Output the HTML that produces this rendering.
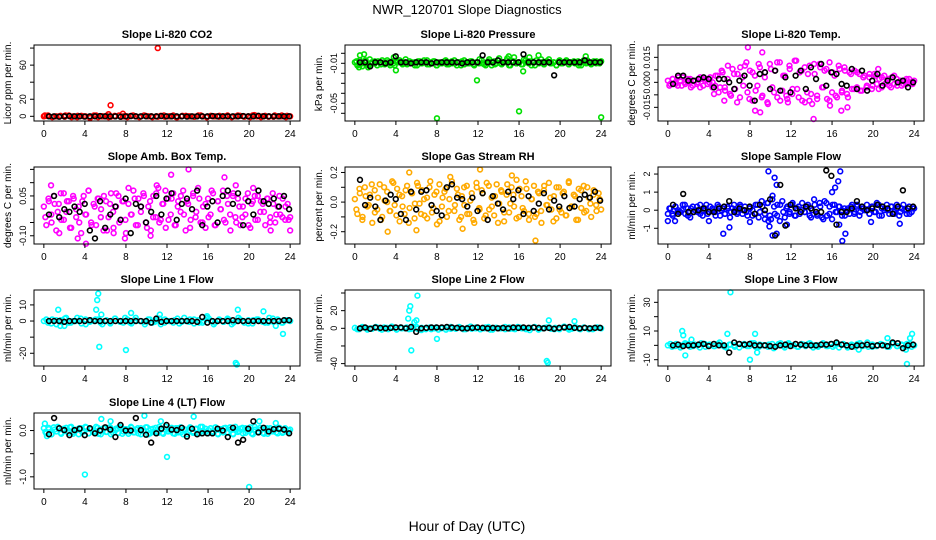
<!DOCTYPE html>
<html><head><meta charset="utf-8"><style>
html,body{margin:0;padding:0;background:#fff}
svg{display:block;font-family:"Liberation Sans",Arial,sans-serif}
</style></head><body>
<svg id="chart" width="936" height="540" viewBox="0 0 936 540" xmlns="http://www.w3.org/2000/svg">
<rect width="936" height="540" fill="#fff"/>
<text x="467" y="14" text-anchor="middle" font-size="13">NWR_120701  Slope Diagnostics</text>
<text x="467" y="531" text-anchor="middle" font-size="14">Hour of Day (UTC)</text>
</svg>
<script>
const xTicks=[0,4,8,12,16,20,24];
// CO2
const co2Band=[0,1,-1,0,0.5,-0.5,1,0,-1,0.5,0,-0.5,1,-1,0,0.5,-0.5,0,1,0,-1,0.5,0,-0.5,1,0,-1,0,0.5,-0.5,0,1,-1,0,0.5,0,-0.5,1,0,-1,0.5,0,-0.5,0,1,-1,0,0.5,-0.5,0,1,0,-1,0.5,0,-0.5,0,1,-1,0];
const co2Band2=[0.5,-0.5,0,1,-1,0.5,0,-0.5,1,0,-1,0.5,-0.5,0,1,-1,0.5,0,-0.5,1,0,-1,0.5,0,-0.5,1,-1,0,0.5,0,-0.5,1,0,-1,0.5,0,-0.5,1,0,0.5];
const co2Out=[[11.1,80],[6.5,13],[7.7,3],[6.3,2.5],[4.5,-2],[20.5,1.5],[0.1,1]];
const co2Black=[0,0,-0.5,0,0.3,0,0,-0.3,0,0,0.3,0,0,0,-0.5,0,0.3,0,0,0,0,0,0.3,0,0,0,0,-0.3,0,0,0,0,0.3,0,0,0,0,0,0.3,0,0,0.5,0,0,0,0,0,0];
// Pressure
const presBand=[-0.009,-0.012,-0.007,-0.013,-0.008,-0.011,-0.006,-0.01,-0.008,-0.012,-0.009,-0.007,-0.011,-0.009,-0.01,-0.008,-0.012,-0.009,-0.007,-0.01,-0.009,-0.011,-0.008,-0.01,-0.009,-0.012,-0.008,-0.01,-0.009,-0.007,-0.011,-0.01,-0.008,-0.012,-0.009,-0.01,-0.008,-0.011,-0.009,-0.01,-0.007,-0.012,-0.009,-0.008,-0.011,-0.009,-0.01,-0.008,-0.012,-0.009,-0.01,-0.007,-0.011,-0.009,-0.006,-0.012,-0.008,-0.01,-0.005,-0.011,-0.009,-0.007,-0.012,-0.008,-0.004,-0.01,-0.009,-0.011,-0.006,-0.009,-0.008,-0.012,-0.009,-0.007,-0.01,-0.009,-0.011,-0.008,-0.006,-0.01,-0.009,-0.012,-0.008,-0.01,-0.009,-0.007,-0.011,-0.009,-0.008,-0.01,-0.012,-0.009,-0.007,-0.01,-0.009,-0.011,-0.008,-0.01,-0.009,-0.008];
const presBand2=[-0.008,-0.011,-0.01,-0.007,-0.012,-0.009,-0.01,-0.008,-0.011,-0.009,-0.007,-0.012,-0.01,-0.008,-0.009,-0.011,-0.006,-0.01,-0.009,-0.012,-0.008,-0.01,-0.007,-0.011,-0.009,-0.008,-0.012,-0.01,-0.009,-0.007,-0.011,-0.008,-0.01,-0.009,-0.012,-0.007,-0.01,-0.008,-0.011,-0.009,-0.006,-0.01,-0.012,-0.008,-0.009,-0.011,-0.007,-0.01,-0.009,-0.005,-0.012,-0.008,-0.01,-0.009,-0.011,-0.007,-0.01,-0.008,-0.012,-0.009,-0.006,-0.011,-0.008,-0.01,-0.009,-0.012,-0.007,-0.01,-0.008,-0.011,-0.009,-0.01,-0.008,-0.012,-0.009,-0.007,-0.01,-0.009,-0.008,-0.01];
const presOut=[[0.9,-0.001],[0.5,-0.002],[0.4,-0.014],[1.3,-0.014],[4,-0.017],[3.8,-0.004],[8,-0.065],[11.9,-0.027],[16,-0.058],[16.4,-0.018],[17,-0.004],[17.9,-0.002],[22.5,-0.003],[24,-0.064],[15,-0.003]];
const presBlack=[-0.009,-0.009,-0.013,-0.009,-0.009,-0.01,-0.009,-0.003,-0.009,-0.009,-0.01,-0.009,-0.009,-0.009,-0.01,-0.009,-0.009,-0.009,-0.009,-0.009,-0.01,-0.009,-0.009,-0.009,-0.002,-0.009,-0.009,-0.007,-0.009,-0.009,-0.009,-0.009,-0.001,-0.009,-0.009,-0.009,-0.009,-0.009,-0.022,-0.009,-0.009,-0.009,-0.009,-0.009,-0.007,-0.009,-0.009,-0.009];
// Li-820 temp
const ltBand=[0.001,-0.001,0.002,0,-0.002,0.001,0.003,-0.001,0,0.002,-0.002,0.001,0,-0.003,0.002,0.001,-0.001,0.003,0,-0.002,0.004,-0.003,0.006,-0.005,0.002,-0.007,0.008,-0.004,0.005,-0.009,0.003,0.01,-0.006,0.007,-0.011,0.004,-0.002,0.009,-0.008,0.006,-0.012,0.011,-0.003,0.007,-0.009,0.012,-0.005,0.004,-0.01,0.008,-0.007,0.013,-0.004,0.006,-0.011,0.009,-0.006,0.01,-0.013,0.005,-0.008,0.011,-0.003,0.007,-0.01,0.012,-0.006,0.004,-0.009,0.008,-0.005,0.009,-0.007,0.006,-0.004,0.007,-0.003,0.005,-0.005,0.004,-0.002,0.003,-0.004,0.005,-0.001,0.002,-0.003,0.004,0,-0.002,0.003,-0.001,0.002,0,-0.002,0.001,-0.001,0.002,0,0.001];
const ltBand2=[-0.002,0.002,-0.001,0.003,-0.002,0,0.002,-0.003,0.001,-0.001,0.003,-0.002,0.002,0,-0.003,0.004,-0.006,0.007,-0.003,0.01,-0.008,0.005,-0.012,0.009,-0.002,0.012,-0.01,0.006,-0.005,0.011,-0.009,0.003,-0.013,0.008,-0.006,0.012,-0.011,0.004,-0.008,0.01,-0.004,0.013,-0.009,0.007,-0.012,0.005,-0.007,0.011,-0.01,0.009,-0.003,0.008,-0.011,0.006,-0.008,0.01,-0.006,0.007,-0.009,0.005,-0.004,0.006,-0.005,0.003,-0.003,0.005,-0.002,0.004,-0.004,0.003,-0.001,0.002,-0.003,0.004,-0.002,0.001,-0.001,0.002,0,-0.001];
const ltOut=[[7.8,0.021],[9.2,0.018],[8.5,-0.017],[9,-0.018],[14.2,-0.022],[16.9,-0.017],[12.5,0.013],[5.5,-0.011],[11.7,-0.012],[15.8,-0.014],[17.5,-0.015],[4.5,-0.007],[20.5,0.008],[13.8,-0.011]];
const ltBlack=[-0.001,0.004,0.004,0.001,0.001,0.002,0.003,0.002,-0.003,0.002,0.002,0,-0.004,0.001,0.004,-0.002,-0.011,0.005,0.006,-0.004,0.007,-0.005,0.003,-0.006,0.004,0.007,-0.004,0.009,0.002,0.011,-0.002,0.006,0.005,-0.001,-0.002,0.008,-0.004,0.007,-0.005,0.001,0.005,-0.002,0.001,0.003,0,0.001,-0.003,0];
// Amb box temp
const abBand=[0.01,-0.06,0.03,-0.02,0.05,-0.08,0.02,-0.04,0.06,-0.01,0.03,-0.07,0.04,-0.03,0.01,-0.09,0.05,-0.02,0.07,-0.05,0.02,-0.06,0.04,0,-0.08,0.03,-0.03,0.06,-0.07,0.01,0.05,-0.04,0.03,-0.09,0.02,-0.02,0.07,-0.06,0.04,-0.01,0.06,-0.05,0.01,-0.08,0.05,-0.03,0.08,-0.04,0.02,-0.07,0.04,-0.02,0.06,-0.06,0.03,-0.01,0.07,-0.08,0.02,-0.04,0.05,-0.03,0.08,-0.05,0.01,-0.07,0.04,-0.02,0.06,-0.06,0.03,0,0.07,-0.05,0.02,-0.08,0.05,-0.03,0.04,-0.06,0.01,-0.02,0.06,-0.07,0.03,-0.04,0.05,-0.01,0.02,-0.06,0.04,-0.03,0.06,-0.05,0.01,-0.02,0.04,-0.04,0.02,-0.03];
const abBand2=[-0.03,0.04,-0.05,0.02,-0.01,0.06,-0.04,0.03,-0.07,0.05,0,-0.05,0.03,-0.02,0.07,-0.06,0.01,0.04,-0.03,0.05,-0.08,0.02,-0.01,0.06,-0.05,0.03,-0.04,0.08,-0.02,0.04,-0.06,0.01,0.05,-0.07,0.03,-0.03,0.06,-0.05,0.02,0.07,-0.04,0.04,-0.06,0.01,0.05,-0.02,0.03,-0.07,0.06,-0.01,0.04,-0.05,0.02,-0.03,0.07,-0.06,0.03,0,-0.04,0.05,-0.02,0.06,-0.05,0.01,-0.03,0.04,-0.06,0.02,0.05,-0.04,0.03,-0.01,0.04,-0.05,0.02,-0.02,0.05,-0.03,0.01,-0.04];
const abOut=[[0.7,0.09],[3.3,-0.11],[4.1,-0.13],[7.9,-0.11],[10.4,-0.1],[11,0.09],[12.4,0.13],[14.1,0.15],[17.6,0.12],[22.1,-0.08],[24,-0.08],[1.5,-0.09],[6.8,-0.09],[18.7,0.09],[20.4,0.08]];
const abBlack=[-0.02,0.05,-0.03,0,-0.01,0.01,-0.01,0.02,-0.08,-0.11,0.03,-0.07,-0.02,0.01,-0.04,0.04,-0.09,0.02,0.01,-0.05,-0.01,0.05,-0.02,0.04,0.06,-0.04,0.02,0.04,0,0.07,-0.06,0.01,0.03,-0.05,0.05,0.07,0.02,0.06,-0.06,0.03,-0.02,0.07,0.03,0.02,0.04,0.01,0.05,0];
// Gas stream RH
const rhBand=[0.02,-0.08,0.06,-0.12,0.1,-0.03,0.05,-0.14,0.08,-0.05,0.12,-0.1,0.01,0.07,-0.06,0.14,-0.02,0.09,-0.13,0.04,-0.08,0.11,-0.04,0.06,-0.11,0.13,-0.01,0.08,-0.09,0.03,0.1,-0.07,0.05,-0.15,0.12,-0.03,0.07,-0.1,0.02,0.14,-0.06,0.09,-0.12,0.04,-0.02,0.11,-0.08,0.06,-0.14,0.1,-0.04,0.08,-0.11,0.13,-0.05,0.03,-0.09,0.12,-0.01,0.07,-0.13,0.05,-0.07,0.1,-0.03,0.15,-0.1,0.04,-0.06,0.09,-0.12,0.02,0.11,-0.08,0.06,-0.14,0.08,-0.02,0.13,-0.05,0.04,-0.11,0.1,-0.07,0.07,-0.09,0.14,-0.03,0.05,-0.12,0.09,-0.04,0.11,-0.06,0.03,-0.1,0.08,-0.02,0.06,-0.05];
const rhBand2=[-0.05,0.09,-0.1,0.04,-0.02,0.12,-0.07,0.03,-0.12,0.1,0,-0.06,0.13,-0.09,0.05,-0.03,0.08,-0.14,0.06,-0.01,0.11,-0.08,0.02,-0.11,0.14,-0.04,0.07,-0.13,0.03,0.09,-0.06,0.12,-0.02,0.05,-0.1,0.1,-0.08,0.01,-0.12,0.13,-0.05,0.06,-0.09,0.11,-0.03,0.04,-0.14,0.08,-0.07,0.12,-0.01,0.05,-0.11,0.09,-0.04,0.14,-0.08,0.02,-0.1,0.07,-0.06,0.11,-0.02,0.03,-0.13,0.1,-0.05,0.06,-0.09,0.13,-0.03,0.04,-0.12,0.08,-0.07,0.1,-0.01,0.05,-0.06,0.02];
const rhOut=[[5.3,0.2],[12.2,0.22],[17.6,-0.26],[3.2,-0.2],[9.3,0.17],[15.3,0.18],[10.5,-0.18],[6,-0.19]];
const rhBlack=[0.15,-0.02,0.03,-0.03,-0.12,0.01,0.05,0.02,-0.08,-0.12,0.07,-0.05,0.07,0.08,-0.02,-0.06,-0.09,0.1,0.12,0.03,0.02,-0.03,0.03,-0.06,0.06,-0.12,0.04,-0.01,-0.05,0.07,0.02,0.08,-0.08,0.04,-0.06,-0.01,0.06,-0.05,0.01,-0.03,0.04,-0.04,-0.03,0.02,0.05,0.03,0.07,0.01];
// Sample flow
const sfBand=[-0.2,0.1,-0.3,0.2,0,-0.1,0.3,-0.2,0.1,-0.4,0.2,0,-0.1,0.3,-0.3,0.1,-0.2,0.2,0,-0.1,0.3,-0.3,0.1,-0.2,0.2,-0.4,0.1,0,-0.1,0.3,-0.2,0.2,-0.3,0.1,0,-0.2,0.3,-0.1,0.2,-0.5,0.4,-0.3,0.6,-0.2,0.3,-0.6,0.5,-0.4,0.2,-0.1,0.3,-0.3,0.1,-0.2,0.4,-0.1,0.2,-0.3,0,0.3,-0.2,0.4,-0.4,0.5,-0.3,0.2,-0.5,0.3,-0.1,0.2,-0.3,0.1,0,-0.2,0.3,-0.1,0.2,-0.3,0.1,0,0.3,-0.2,0.2,-0.1,0.4,-0.3,0.1,0,0.3,-0.2,0.2,-0.1,0.3,-0.3,0.1,0,-0.2,0.2,-0.1,0.1];
const sfBand2=[0.1,-0.2,0.2,-0.1,0,0.3,-0.3,0.1,-0.1,0.2,-0.2,0,0.3,-0.1,0.1,-0.3,0.2,0,-0.2,0.1,-0.1,0.3,-0.2,0.2,0,-0.1,0.1,-0.3,0.3,-0.4,0.5,-0.2,0.4,-0.5,0.2,-0.3,0.3,-0.1,0.1,-0.2,0.4,-0.3,0.2,0,-0.1,0.3,-0.4,0.6,-0.3,0.2,-0.5,0.4,-0.2,0.3,-0.1,0.2,0,-0.3,0.1,0.2,-0.2,0.3,-0.1,0.1,0,-0.2,0.2,-0.1,0.3,-0.3,0.1,0,0.2,-0.2,0.1,-0.1,0.3,0,-0.2,0.1];
const sfOut=[[9.8,2.15],[10.4,1.8],[10.6,1.4],[10.2,0.8],[9.9,-0.9],[10.2,-1.4],[10.6,-1.3],[9.8,-0.6],[11.6,-0.8],[16,1],[16.3,1.25],[16.6,1.6],[16.8,2.15],[16.7,-0.8],[17,-1.7],[17.3,-1.3],[5.4,-1.3],[6,-0.95],[0,-0.6],[0.7,-0.6],[22.6,-0.75],[19.8,-0.65],[8,-0.65],[4,-0.6]];
const sfBlack=[0.3,-0.2,0.9,-0.1,-0.1,0,0.1,-0.1,-0.1,0.1,0.2,0.5,-0.1,0.1,0,0.2,-0.2,0.3,0,0.6,-1.4,1.4,-0.85,0.3,0.1,-0.1,0.2,0.1,-0.1,-0.1,2.2,1.9,-0.8,-0.1,-0.1,0.1,0.5,0.2,0,0.1,0.3,0.2,0.1,-0.2,0.2,1.1,0.1,0.2];
// Line 1
const l1Band=[0,-1,1,-2,0.5,1.5,-1,0,2,-1.5,1,-0.5,0,1,-2,0.5,-1,1.5,0,-1,1,-1.5,2,0,-0.5,1,-1,0.5,-2,1,0,-1,1.5,-0.5,0,1,-1.5,0.5,-1,2,0,-1,1,-0.5,1.5,-2,0,1,-1,0.5,-1.5,1,0,-1,2,-0.5,1,-1,0.5,0];
const l1Band2=[1,-1.5,0.5,-0.5,2,-1,0,1.5,-2,0.5,1,-1,0,-1.5,1.5,-0.5,2,-1,0.5,0,-2,1,-0.5,1.5,-1,0,0.5,-1.5,2,-0.5,1,-1,0,1.5,-2,0.5,-0.5,1,-1,2,0,-1.5,0.5,1,-0.5,-1,1.5,0,-1,0.5];
const l1Out=[[1.4,7],[1.6,-3],[2,-3],[5.1,7],[5.2,13],[5.3,17],[5.4,-16],[5.6,4],[8,-18],[8.5,5],[11.3,4],[18.7,-26],[18.8,-27],[18.9,7],[21.4,6],[22.6,-3],[23.3,-8],[15.9,3]];
const l1Black=[0,0,0,-0.5,0,0,0,0,0.5,0,0,0,0,0,0,0,0,0,0,0,-1,1.5,-0.5,0,0,0,0,0,0,-0.5,2.5,-1,0,0,0,0,0.5,0,0,0,0,0,0,0,0,0,0.5,0.5];
// Line 2
const l2Band=[0.5,-1,1,-1.5,0,1.5,-0.5,1,-1,0.5,-1.5,1,0,-1,1.5,-0.5,0.5,-1,1,0,-1.5,0.5,1,-0.5,0,1.5,-1,0.5,-0.5,1,-1,0,1.5,-1.5,0.5,0,-1,1,-0.5,1.5,0,-1,0.5,1,-1.5,0,1,-0.5,0.5,-1,1.5,0,-0.5,1,-1,0.5,0,-1,1,0];
const l2Band2=[-1,1.5,0,-0.5,1,-1.5,0.5,2,-1,0,1,-0.5,1.5,-2,0.5,-1,1,0,-1.5,1.5,-0.5,0.5,-1,2,0,-1,1,-1.5,0.5,0,1.5,-0.5,-1,1,0,-2,1.5,-0.5,0.5,1,-1,0,2,-1.5,0.5,-0.5,1,-1,0,0.5];
const l2Out=[[5.2,11],[5.3,20],[5.4,25],[5.8,7],[6,9],[6.1,37],[5.5,-25],[8,-12],[18.7,-37],[18.8,-39],[18.9,9],[21.4,8]];
const l2Black=[0,1,-0.5,1,0.5,0,0.5,1,1,0,1.5,-4,0,0.5,1,1,1,1.5,1,0.5,0,0,0.5,1,0.5,0,0.5,0,0.5,0,1,0.5,1,0.5,1,0.5,0,0.5,-0.5,0.5,1,1.5,0.5,0,0.5,0,0.5,0.5];
// Line 3
const l3Band=[0,-1,1,-1.5,0.5,1,-0.5,0,1.5,-1,0.5,-0.5,1,0,-1.5,0.5,-1,1,0,-0.5,1.5,-1,0.5,0,-1,1,-0.5,1.5,-1.5,0.5,0,-1,1,-0.5,1.5,0,-1,0.5,-0.5,1,0,-1.5,1,-0.5,0.5,-1,1.5,0,-1,0.5,-0.5,1,0,-1,1.5,-0.5,0.5,-1,1,0];
const l3Band2=[1,-0.5,0,1.5,-1,0.5,-1.5,1,0,-0.5,2,-1,0.5,0,-1.5,1,-0.5,1.5,-1,0,0.5,-2,1,-0.5,1.5,0,-1,0.5,1,-1.5,0,1.5,-0.5,-1,1,0.5,-1.5,0,1,-0.5,2,-1,0,0.5,-1,1.5,-0.5,0,1,-1];
const l3Out=[[1.4,10],[1.5,7],[1.7,-7],[2.3,4],[5.8,8],[6.1,37],[8,-10],[8.5,8],[8.7,-5],[18.6,-3],[23.3,-13],[23.6,5],[23.8,8],[23.2,-3],[21.4,5]];
const l3Black=[0,0.5,-0.5,0,0,0.5,1,-0.5,1,0,0,-5,2,1,0.5,1,0,0,0,-0.5,-1,0,0.5,-0.5,1,0.5,0,0,0,0.5,0.5,1,2,0.5,0,-1,0,0,0.5,-0.5,0,0,-0.5,2,1.5,-2,0,0.5];
// Line 4
const l4Band=[0.05,-0.06,0.03,-0.08,0.07,-0.02,0.04,-0.07,0.01,0.06,-0.05,0.08,-0.03,0.02,-0.08,0.05,-0.01,0.07,-0.06,0.03,-0.04,0.08,-0.07,0.02,0.05,-0.03,0.06,-0.08,0.01,0.04,-0.05,0.07,-0.02,0.03,-0.07,0.08,-0.04,0.02,-0.06,0.05,-0.01,0.07,-0.08,0.03,-0.03,0.06,-0.05,0.04,-0.07,0.08,-0.02,0.01,-0.06,0.05,-0.04,0.07,-0.08,0.02,-0.03,0.06,-0.05,0.03,-0.07,0.08,-0.01,0.04,-0.06,0.05,-0.02,0.07,-0.08,0.03,-0.04,0.06,-0.05,0.02,-0.07,0.08,-0.03,0.04,-0.06,0.05,-0.01,0.07,-0.08,0.02,-0.04,0.06,-0.05,0.03,-0.07,0.05,-0.02,0.04,-0.06,0.03,-0.03,0.05,-0.04,0.02];
const l4Band2=[-0.03,0.06,-0.08,0.02,0.08,-0.05,0.04,-0.02,0.07,-0.07,0.01,0.05,-0.04,0.08,-0.06,0.03,-0.01,0.06,-0.08,0.04,-0.03,0.07,-0.05,0.02,0.08,-0.07,0.03,-0.02,0.06,-0.04,0.05,-0.08,0.01,0.07,-0.06,0.04,-0.03,0.08,-0.05,0.02,-0.01,0.06,-0.07,0.05,-0.04,0.03,-0.08,0.07,-0.02,0.04,-0.06,0.08,-0.03,0.01,-0.05,0.06,-0.07,0.03,0.05,-0.04,0.07,-0.08,0.02,-0.01,0.06,-0.05,0.04,-0.06,0.08,-0.03,0.02,-0.07,0.05,-0.02,0.03,-0.04,0.06,-0.05,0.01,0];
const l4Out=[[0.1,0.15],[5.6,0.25],[6.5,0.2],[9.8,0.32],[14.6,0.3],[21,0.2],[11.4,0.2],[4,-0.95],[12,-0.57],[20,-1.22],[0.3,-0.12],[22.6,0.16]];
const l4Black=[-0.08,0.27,0.05,0.01,-0.1,0.01,0.04,-0.1,0.05,-0.06,0,0.07,0.02,-0.14,0.12,0,0,0.27,0.01,-0.09,-0.26,-0.06,0.04,0.12,0.02,0.01,0.06,-0.13,0.04,-0.08,-0.06,-0.06,-0.06,0.04,0,-0.14,0.06,-0.26,-0.2,0.04,0.2,-0.04,0.06,-0.02,0.03,0.04,0.02,-0.06];

const panels=[
 {name:'co2',title:'Slope Li-820 CO2',ylab:'Licor ppm per min.',box:[34,45,300,121],ylim:[-5.5,83.6],ticks:[0,20,40,60,80],labels:['0','20','','60',''],color:'#ff0000',bands:[co2Band,co2Band2],out:co2Out,black:co2Black},
 {name:'pressure',title:'Slope Li-820 Pressure',ylab:'kPa per min.',box:[345,45,611,121],ylim:[-0.0677,0.0083],ticks:[0,-0.01,-0.02,-0.03,-0.04,-0.05,-0.06],labels:['','-0.01','','','','-0.05',''],color:'#00e000',bands:[presBand,presBand2],out:presOut,black:presBlack},
 {name:'li820-temp',title:'Slope Li-820 Temp.',ylab:'degrees C per min.',box:[658,45,924,121],ylim:[-0.0232,0.0224],ticks:[0.015,0.0075,0,-0.0075,-0.015],labels:['0.015','','0.000','','-0.015'],color:'#ff00ff',bands:[ltBand,ltBand2],out:ltOut,black:ltBlack},
 {name:'amb-box-temp',title:'Slope Amb. Box Temp.',ylab:'degrees C per min.',box:[34,167,300,244],ylim:[-0.131,0.159],ticks:[0.15,0.1,0.05,0,-0.05,-0.1],labels:['','','0.05','','','-0.10'],color:'#ff00ff',bands:[abBand,abBand2],out:abOut,black:abBlack},
 {name:'gas-stream-rh',title:'Slope Gas Stream RH',ylab:'percent per min.',box:[345,167,611,244],ylim:[-0.283,0.237],ticks:[0.2,0.1,0,-0.1,-0.2],labels:['0.2','','0.0','','-0.2'],color:'#ffaa00',bands:[rhBand,rhBand2],out:rhOut,black:rhBlack},
 {name:'sample-flow',title:'Slope Sample Flow',ylab:'ml/min per min.',box:[658,167,924,244],ylim:[-1.87,2.39],ticks:[2,1,0,-1],labels:['2','1','0','-1'],color:'#0000ff',bands:[sfBand,sfBand2],out:sfOut,black:sfBlack},
 {name:'line1-flow',title:'Slope Line 1 Flow',ylab:'ml/min per min.',box:[34,290,300,366],ylim:[-27.9,19.25],ticks:[10,0,-10,-20],labels:['10','0','','-20'],color:'#00ffff',bands:[l1Band,l1Band2],out:l1Out,black:l1Black},
 {name:'line2-flow',title:'Slope Line 2 Flow',ylab:'ml/min per min.',box:[345,290,611,366],ylim:[-42.7,43.4],ticks:[40,20,0,-20,-40],labels:['','20','0','','-40'],color:'#00ffff',bands:[l2Band,l2Band2],out:l2Out,black:l2Black},
 {name:'line3-flow',title:'Slope Line 3 Flow',ylab:'ml/min per min.',box:[658,290,924,366],ylim:[-14.4,38.6],ticks:[30,20,10,0,-10],labels:['30','','10','','-10'],color:'#00ffff',bands:[l3Band,l3Band2],out:l3Out,black:l3Black},
 {name:'line4-flow',title:'Slope Line 4 (LT) Flow',ylab:'ml/min per min.',box:[34,413,300,489],ylim:[-1.263,0.379],ticks:[0,-0.5,-1],labels:['0.0','','-1.0'],color:'#00ffff',bands:[l4Band,l4Band2],out:l4Out,black:l4Black}
];
const NS='http://www.w3.org/2000/svg';
const svg=document.getElementById('chart');
function mk(tag,attrs,parent){const e=document.createElementNS(NS,tag);for(const k in attrs)e.setAttribute(k,attrs[k]);(parent||svg).appendChild(e);return e;}
panels.forEach(p=>{
 const [x0,y0,x1,y1]=p.box;
 const g=mk('g',{});
 
 
 const xs=h=>x0+(x1-x0)*((h+0.96)/25.92);
 const ys=v=>y1-(y1-y0)*((v-p.ylim[0])/(p.ylim[1]-p.ylim[0]));
 const t=mk('text',{x:(x0+x1)/2,y:y0-7,'text-anchor':'middle','font-size':'11','font-weight':'bold'},g);
 t.textContent=p.title;
 
 
 const yl=mk('text',{transform:`translate(${x0-23},${(y0+y1)/2}) rotate(-90)`,'text-anchor':'middle','font-size':'10'},g);
 yl.textContent=p.ylab;
 
 
 const pts=mk('g',{fill:'none','stroke-width':'1.6'},g);
 
 
 p.bands.forEach((band,k)=>{
  const n=band.length;
  band.forEach((v,i)=>{const h=k===0?i*24/(n-1):(i+0.5)*24/n;const c=mk('circle',{cx:xs(h),cy:ys(v),r:2.4,stroke:p.color},pts);
   
   });
 });
 p.out.forEach(o=>{const c=mk('circle',{cx:xs(o[0]),cy:ys(o[1]),r:2.4,stroke:p.color},pts);
  
  });
 const m=p.black.length;
 p.black.forEach((v,i)=>{const h=0.5+i*23.4/(m-1);const c=mk('circle',{cx:xs(h),cy:ys(v),r:2.4,stroke:'#000'},pts);
  
  });
 const b=mk('rect',{x:x0,y:y0,width:x1-x0,height:y1-y0,fill:'none',stroke:'#000','stroke-width':'1'},g);
 
 
 const xa=mk('g',{stroke:'#000','stroke-width':'1'},g);
 
 
 xTicks.forEach(h=>{mk('line',{x1:xs(h),x2:xs(h),y1:y1,y2:y1+4},xa);
  const tl=mk('text',{x:xs(h),y:y1+16,'text-anchor':'middle','font-size':'10',stroke:'none',fill:'#000'},xa);tl.textContent=h;
  
  });
 const ya=mk('g',{stroke:'#000','stroke-width':'1'},g);
 
 
 p.ticks.forEach((v,i)=>{const y=ys(v);mk('line',{x1:x0-4,x2:x0,y1:y,y2:y},ya);
  if(p.labels[i]){const tl=mk('text',{transform:`translate(${x0-8},${y}) rotate(-90)`,'text-anchor':'middle','font-size':'9',stroke:'none',fill:'#000'},ya);tl.textContent=p.labels[i];
  
  }});
});
</script>
</body></html>
